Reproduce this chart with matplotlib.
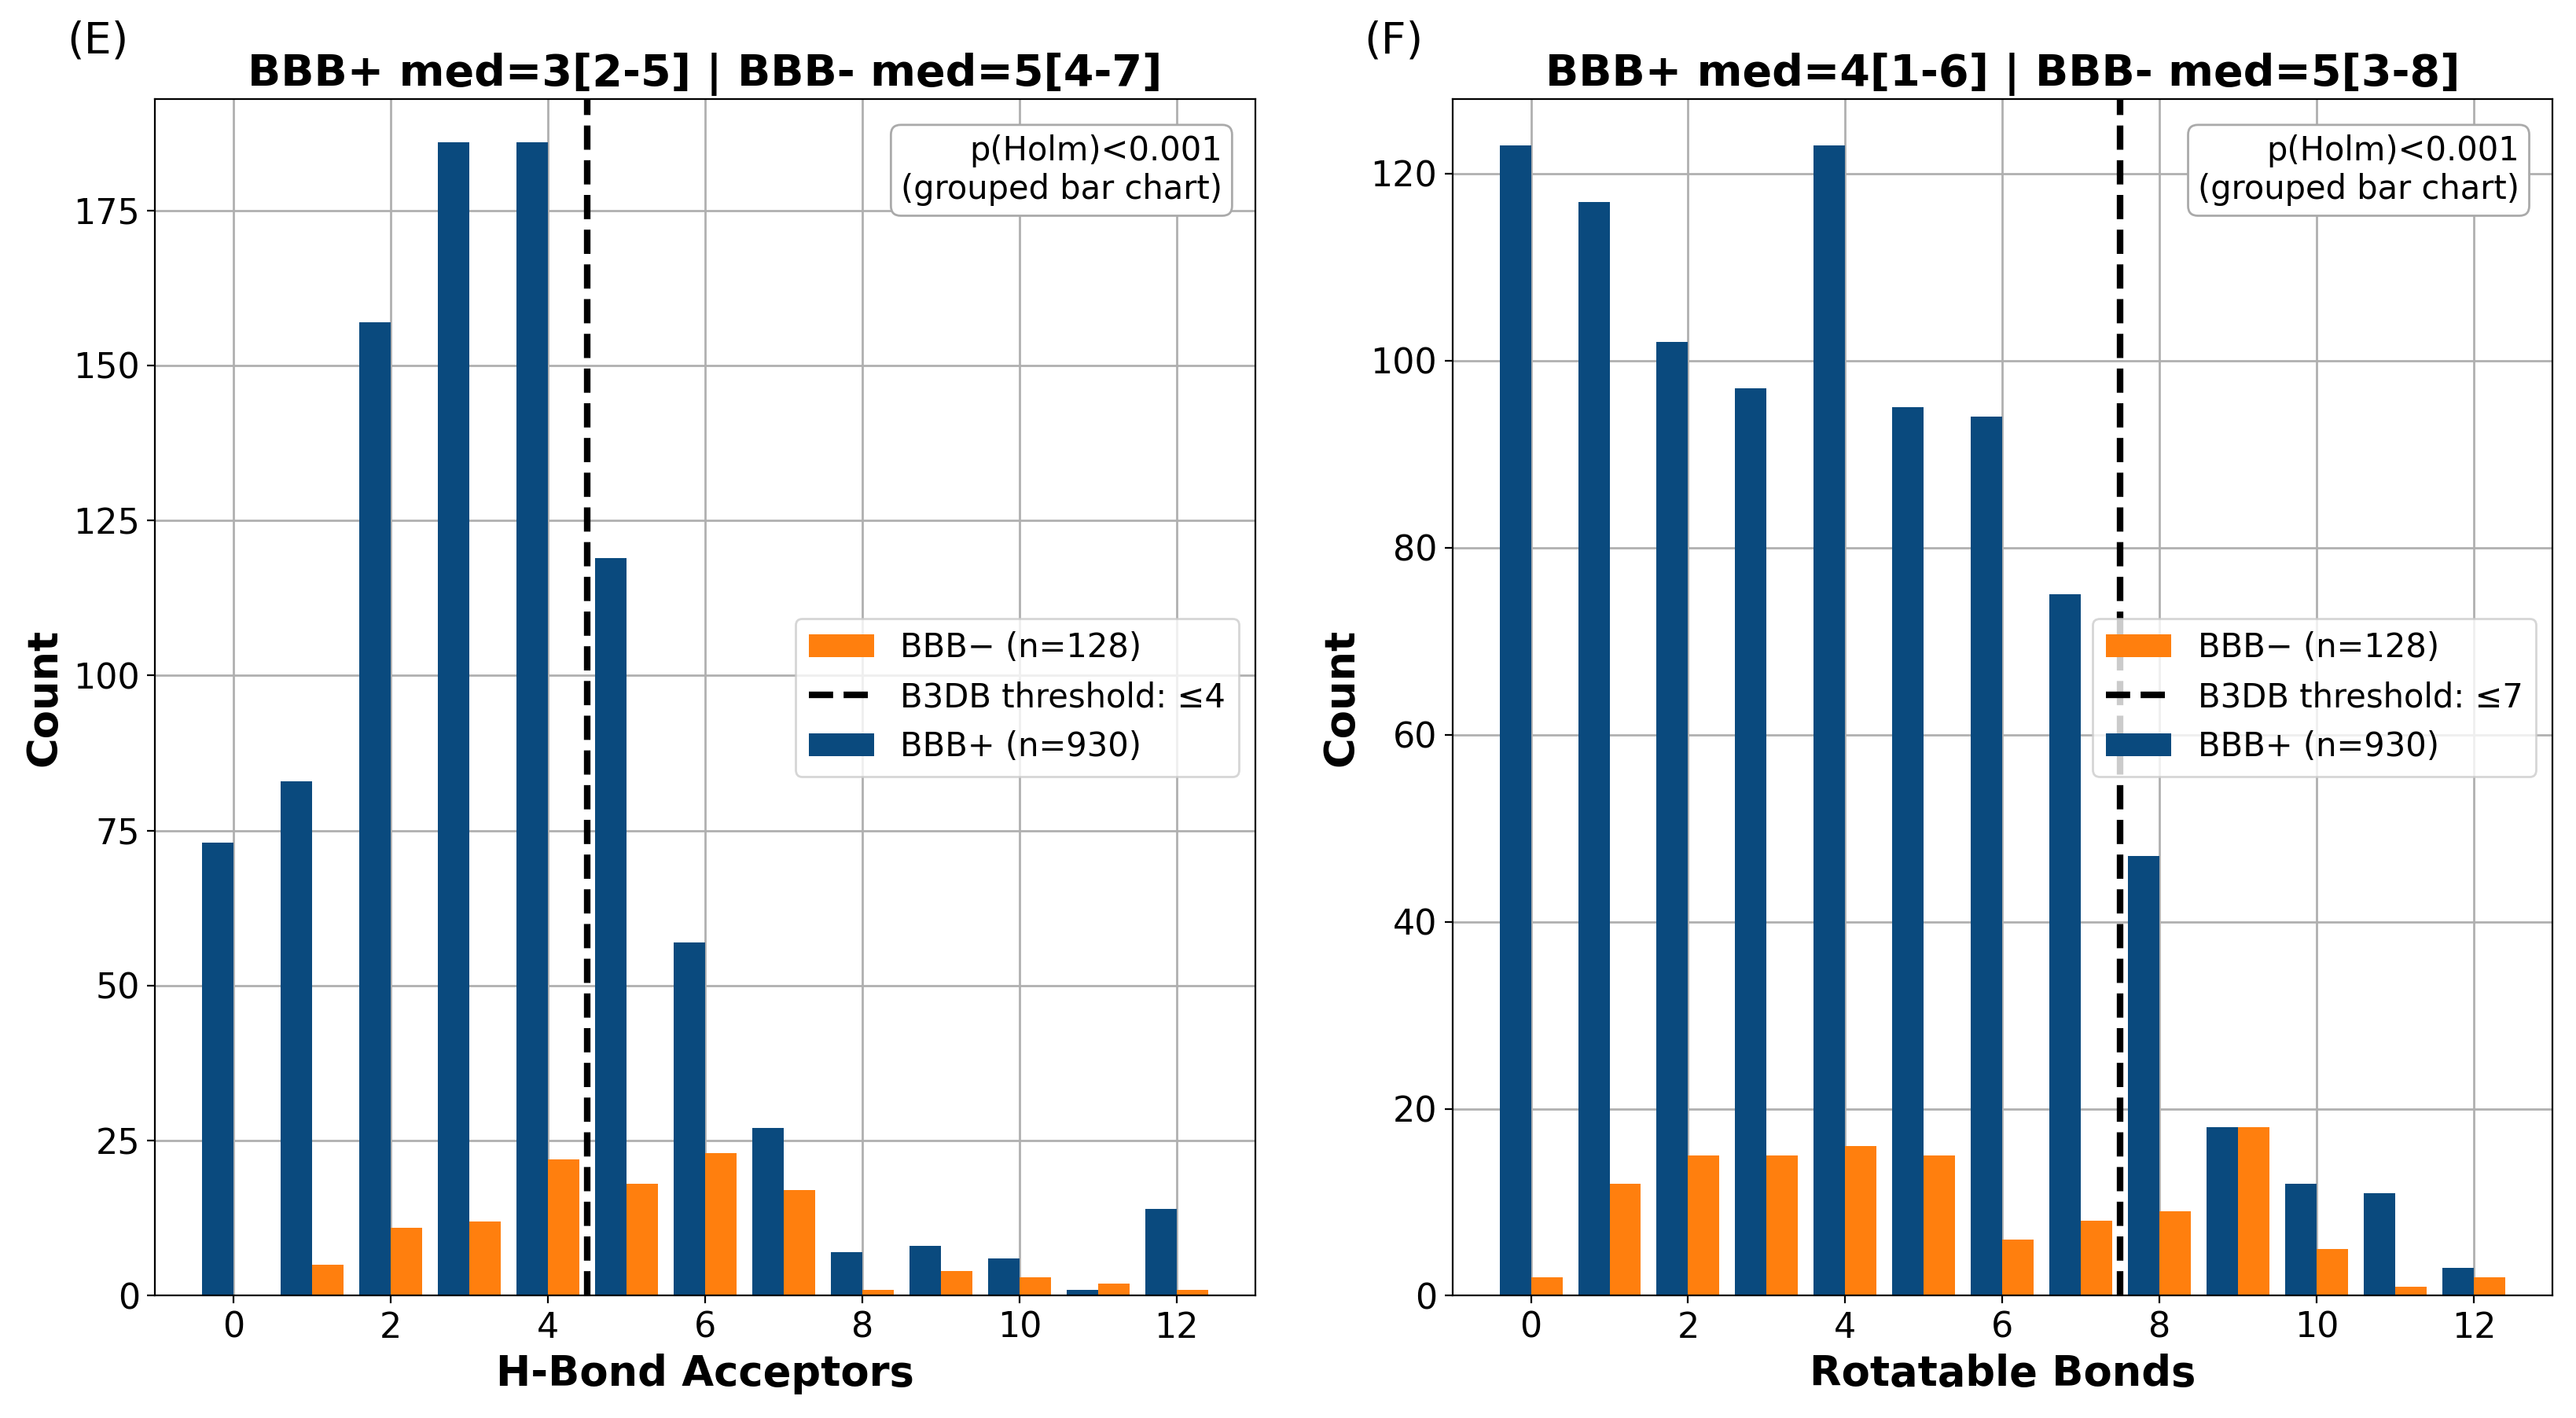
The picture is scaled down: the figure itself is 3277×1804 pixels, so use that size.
import matplotlib
matplotlib.use("Agg")
import matplotlib.pyplot as plt
import numpy as np

x = np.arange(13)
hba_pos = [73, 83, 157, 186, 186, 119, 57, 27, 7, 8, 6, 1, 14]
hba_neg = [0, 5, 11, 12, 22, 18, 23, 17, 1, 4, 3, 2, 1]
rot_pos = [123, 117, 102, 97, 123, 95, 94, 75, 47, 18, 12, 11, 3]
rot_neg = [2, 12, 15, 15, 16, 15, 6, 8, 9, 18, 5, 1, 2]

panels = [
    ("(E)", "BBB+ med=3[2-5] | BBB- med=5[4-7]", "H-Bond Acceptors", hba_pos, hba_neg, 4.5, "B3DB threshold: \u22644", 193),
    ("(F)", "BBB+ med=4[1-6] | BBB- med=5[3-8]", "Rotatable Bonds", rot_pos, rot_neg, 7.5, "B3DB threshold: \u22647", 128),
]

plt.rcParams['font.family'] = ['DejaVu Sans']
fig, axes = plt.subplots(1, 2, figsize=(16.385, 9.02), dpi=200)
for ax, (lab, title, xl, pos, neg, thr, tl, ymax) in zip(axes, panels):
    ax.grid(True, color='#b0b0b0', linewidth=1)
    ax.set_axisbelow(True)
    ax.bar(x - 0.2, pos, width=0.4, color='#0a4a7e', label='BBB+ (n=930)')
    ax.bar(x + 0.2, neg, width=0.4, color='#ff7f0e', label='BBB\u2212 (n=128)')
    ax.axvline(thr, color='black', linestyle='--', linewidth=3, label=tl)
    ax.set_xlim(-1, 13)
    ax.set_ylim(0, ymax)
    ax.set_xticks(range(0, 13, 2))
    ax.tick_params(labelsize=16)
    ax.set_xlabel(xl, fontsize=19, fontweight='bold')
    ax.set_ylabel('Count', fontsize=19, fontweight='bold')
    ax.set_title(title, fontsize=20, fontweight='bold')
    ax.text(-0.08, 1.03, lab, transform=ax.transAxes, fontsize=20, va='bottom')
    ax.text(0.97, 0.97, 'p(Holm)<0.001\n(grouped bar chart)', transform=ax.transAxes,
            ha='right', va='top', fontsize=15,
            bbox=dict(boxstyle='round', facecolor='white', edgecolor='#aaaaaa'))
    h, l = ax.get_legend_handles_labels()
    order = [2, 0, 1]
    ax.legend([h[i] for i in order], [l[i] for i in order], loc='center right',
              bbox_to_anchor=(1.0, 0.5), fontsize=15)
plt.tight_layout(w_pad=3)
fig.savefig('out.png', dpi=200)
